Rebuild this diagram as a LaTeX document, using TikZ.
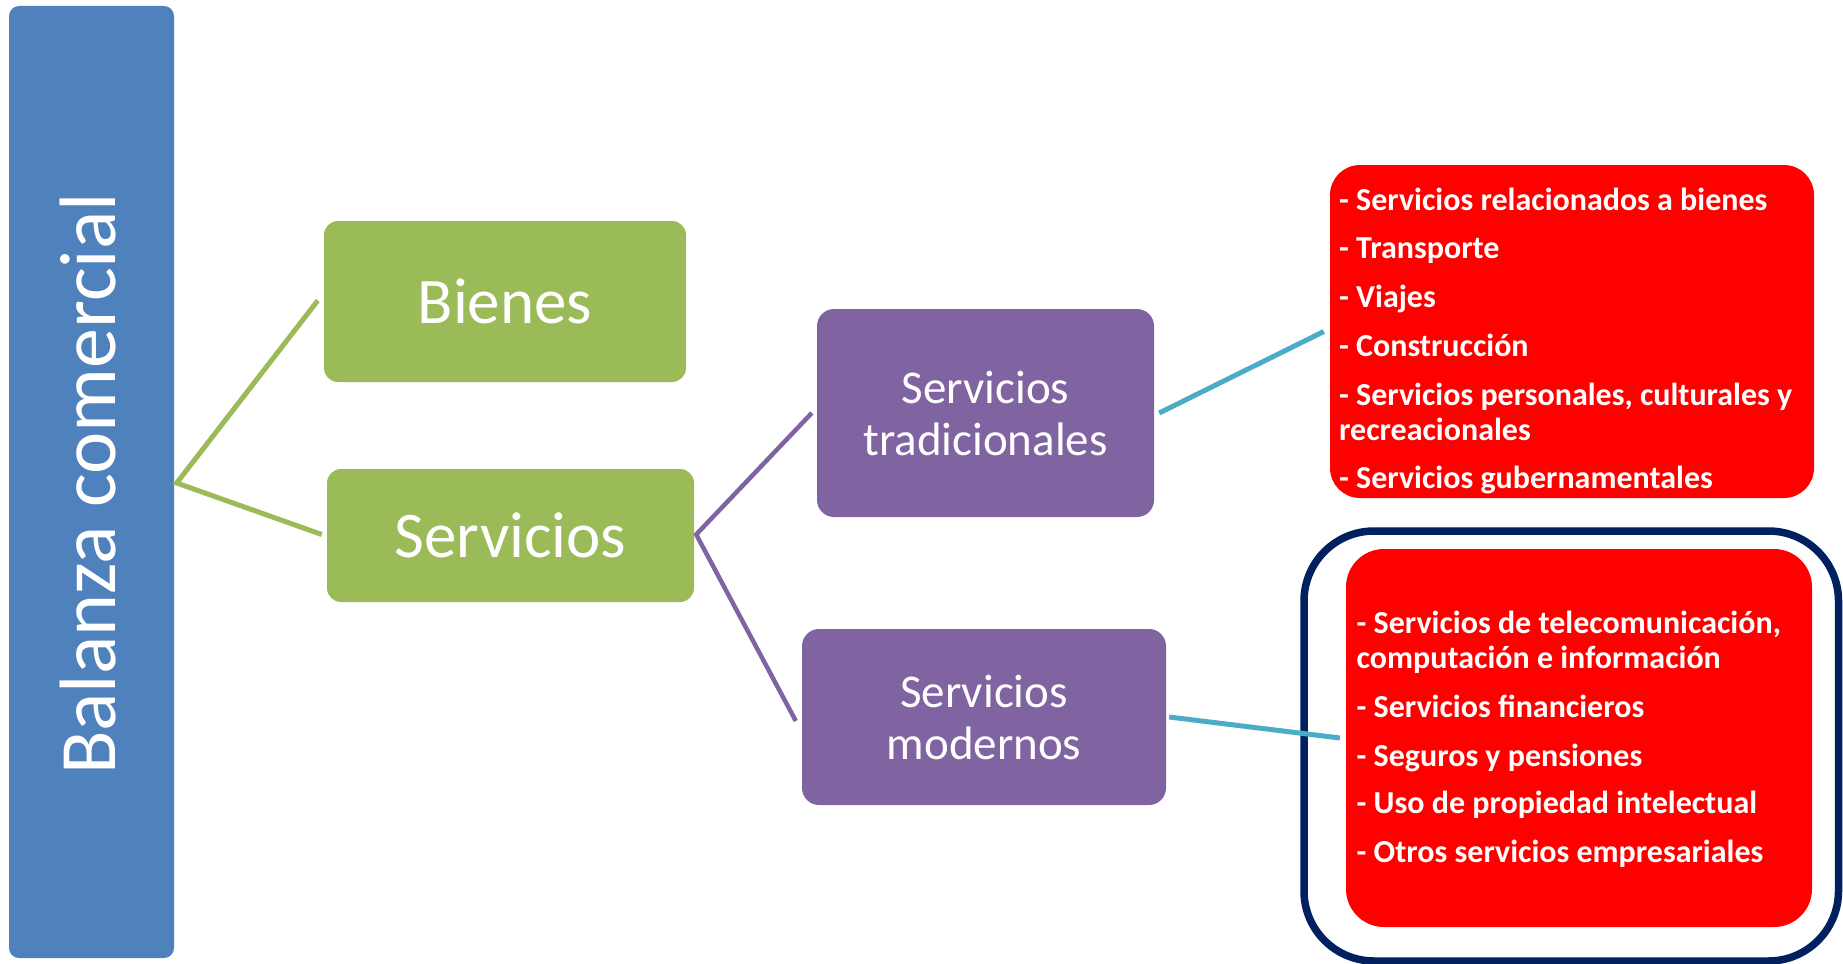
\documentclass[tikz,border=0pt]{standalone}
\usepackage{fontspec}
\setmainfont{Carlito}
\definecolor{sblue}{HTML}{4F81BD}
\definecolor{sgreen}{HTML}{9BBB59}
\definecolor{spurple}{HTML}{8064A2}
\definecolor{scyan}{HTML}{4BACC6}
\definecolor{snavy}{HTML}{002060}
\definecolor{sred}{HTML}{FF0000}
\begin{document}
\begin{tikzpicture}[x=1pt,y=-1pt,
  box/.style={inner sep=0pt, text=white, align=center},
  bluebar/.style={box, fill=sblue, rounded corners=10pt},
  greenbox/.style={box, fill=sgreen, rounded corners=14pt, font=\fontsize{65}{72}\selectfont},
  purplebox/.style={box, fill=spurple, rounded corners=17pt, font=\fontsize{47}{52}\selectfont},
  redbox/.style={fill=sred, inner sep=0pt},
  itemline/.style={anchor=base west, inner sep=0pt, text=white, font=\bfseries\fontsize{32}{35}\selectfont},
  glink/.style={draw=sgreen, line width=5pt},
  plink/.style={draw=spurple, line width=4.5pt},
  clink/.style={draw=scyan, line width=5pt},
]
\useasboundingbox (0,0) rectangle (1843,963);
% left bar
\node[bluebar, minimum width=165pt, minimum height=952pt] (bar) at (91.5,482) {};
\node[inner sep=0pt, text=white, rotate=90, font=\fontsize{80}{82}\selectfont] (bartext) at (88,484) {Balanza comercial};
% green boxes
\node[greenbox, minimum width=362pt, minimum height=161pt] (bienes) at (505,301.5) {Bienes};
\node[greenbox, minimum width=367pt, minimum height=133pt] (serv) at (510.5,535.5) {Servicios};
% purple boxes
\node[purplebox, minimum width=337pt, minimum height=208pt] (trad) at (985.5,413) {Servicios\\tradicionales};
\node[purplebox, minimum width=364pt, minimum height=176pt] (mod) at (984,717) {Servicios\\modernos};
% red box 1
\node[redbox, rounded corners=30pt, minimum width=484pt, minimum height=333pt] (rb1) at (1572,331.5) {};
% frame and red box 2
\node[draw=snavy, line width=7.5pt, rounded corners=70pt, inner sep=0pt, minimum width=534.5pt, minimum height=430pt] (frame) at (1571.25,746) {};
\node[redbox, rounded corners=38pt, minimum width=466pt, minimum height=378pt] (rb2) at (1579,738) {};
% items box 1
\node[itemline] (a1) at (1339,210) {- Servicios relacionados a bienes};
\node[itemline] (a2) at (1339,258) {- Transporte};
\node[itemline] (a3) at (1339,307) {- Viajes};
\node[itemline] (a4) at (1339,356) {- Construcción};
\node[itemline] (a5) at (1339,405) {- Servicios personales, culturales y};
\node[itemline] (a6) at (1339,440) {recreacionales};
\node[itemline] (a7) at (1339,488) {- Servicios gubernamentales};
% items box 2
\node[itemline] (b1) at (1356.5,633) {- Servicios de telecomunicación,};
\node[itemline] (b2) at (1356.5,668) {computación e información};
\node[itemline] (b3) at (1356.5,717) {- Servicios financieros};
\node[itemline] (b4) at (1356.5,766) {- Seguros y pensiones};
\node[itemline] (b5) at (1356.5,813) {- Uso de propiedad intelectual};
\node[itemline] (b6) at (1356.5,862) {- Otros servicios empresariales};
% connectors
\coordinate (j1) at ([xshift=2.5pt,yshift=-1pt]bar.east);
\coordinate (j2) at ([xshift=2pt,yshift=1pt]serv.east);
\draw[glink] ([xshift=-6pt,yshift=1pt]bienes.west) -- (j1) -- ([xshift=-5pt,yshift=1pt]serv.west);
\draw[plink] ([xshift=-5pt]trad.west) -- (j2) -- ([xshift=-6pt,yshift=-4pt]mod.west);
\draw[clink] ([xshift=5pt]trad.east) -- ([xshift=-6pt]rb1.west);
\draw[clink] ([xshift=3pt]mod.east) -- ([xshift=-6pt]rb2.west);
\end{tikzpicture}
\end{document}
